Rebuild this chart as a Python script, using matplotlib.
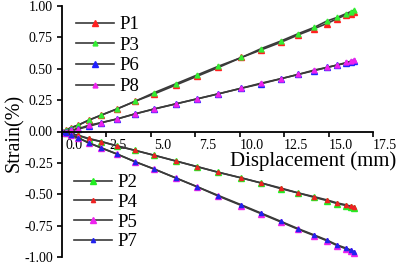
import matplotlib
matplotlib.use("Agg")
import matplotlib.pyplot as plt
from matplotlib import transforms
from matplotlib.ticker import MultipleLocator, FormatStrFormatter

plt.rcParams['font.family'] = ['Liberation Serif', 'DejaVu Serif']
plt.rcParams['axes.unicode_minus'] = False

# displacement (mm)
x = [0.0, 0.2, 0.5, 0.9, 1.5, 2.2, 3.1, 4.1, 5.2, 6.4, 7.6, 8.8, 10.1,
     11.2, 12.3, 13.3, 14.2, 14.9, 15.5, 16.0, 16.25, 16.45]

P1 = [0.0, 0.01, 0.03, 0.05, 0.09, 0.13, 0.18, 0.24, 0.30, 0.37, 0.44, 0.51,
      0.59, 0.65, 0.71, 0.77, 0.82, 0.86, 0.90, 0.93, 0.94, 0.955]
P3 = [0.0, 0.01, 0.03, 0.05, 0.09, 0.13, 0.18, 0.24, 0.31, 0.38, 0.45, 0.52,
      0.59, 0.66, 0.72, 0.78, 0.83, 0.88, 0.91, 0.94, 0.955, 0.968]
P6 = [0.0, 0.0, 0.01, 0.02, 0.04, 0.07, 0.10, 0.14, 0.18, 0.22, 0.26, 0.30,
      0.345, 0.38, 0.42, 0.455, 0.485, 0.51, 0.53, 0.545, 0.555, 0.563]
P8 = [0.0, 0.0, 0.01, 0.02, 0.05, 0.07, 0.10, 0.14, 0.18, 0.22, 0.26, 0.30,
      0.345, 0.385, 0.42, 0.455, 0.49, 0.51, 0.53, 0.55, 0.56, 0.57]
P2 = [0.0, -0.01, -0.02, -0.03, -0.06, -0.08, -0.115, -0.15, -0.19, -0.235,
      -0.28, -0.325, -0.37, -0.41, -0.455, -0.49, -0.525, -0.55, -0.575,
      -0.59, -0.60, -0.61]
P4 = [0.0, -0.01, -0.02, -0.03, -0.055, -0.08, -0.115, -0.15, -0.19, -0.235,
      -0.28, -0.325, -0.37, -0.41, -0.45, -0.49, -0.52, -0.545, -0.57,
      -0.585, -0.595, -0.60]
P5 = [0.0, -0.01, -0.03, -0.05, -0.09, -0.13, -0.18, -0.24, -0.30, -0.37,
      -0.44, -0.515, -0.59, -0.655, -0.72, -0.78, -0.83, -0.87, -0.91,
      -0.935, -0.95, -0.965]
P7 = [0.0, -0.01, -0.03, -0.05, -0.09, -0.13, -0.18, -0.24, -0.30, -0.37,
      -0.44, -0.51, -0.585, -0.65, -0.715, -0.775, -0.825, -0.865, -0.905,
      -0.93, -0.945, -0.96]

LINE = '#3a3a3a'

fig = plt.figure(figsize=(4.0, 2.64), dpi=100)
ax = fig.add_axes([62/400, 7/264, (373-62)/400, 251/264])

def draw(y, color, ms, label):
    return ax.plot(x, y, color=LINE, lw=1.2, marker='^', ms=ms,
                   mfc=color, mec=color, label=label)[0]

h1 = draw(P1, '#ff2020', 4.5, 'P1')
h3 = draw(P3, '#33ee33', 3.5, 'P3')
h6 = draw(P6, '#2020ff', 4.5, 'P6')
h8 = draw(P8, '#ee22ee', 3.5, 'P8')
h2 = draw(P2, '#22ee22', 4.5, 'P2')
h4 = draw(P4, '#ee2222', 3.0, 'P4')
h5 = draw(P5, '#ee22ee', 4.5, 'P5')
h7 = draw(P7, '#2222ee', 3.0, 'P7')

ax.set_xlim(0, 17.5)
ax.set_ylim(-1.0, 1.0)
ax.spines['top'].set_visible(False)
ax.spines['right'].set_visible(False)
ax.spines['bottom'].set_position(('data', 0))
for s in ax.spines.values():
    s.set_linewidth(1.3)

ax.xaxis.set_major_locator(MultipleLocator(2.5))
ax.xaxis.set_major_formatter(FormatStrFormatter('%.1f'))
ax.yaxis.set_major_locator(MultipleLocator(0.25))
ax.yaxis.set_major_formatter(FormatStrFormatter('%.2f'))
ax.tick_params(axis='both', direction='out', length=3.5, width=1.2,
               labelsize=10, pad=2)
ax.tick_params(axis='y', pad=3)

shift = transforms.ScaledTranslation(12/100, 0, fig.dpi_scale_trans)
for lab in ax.get_xticklabels():
    lab.set_transform(lab.get_transform() + shift)

leg1 = ax.legend(handles=[h1, h3, h6, h8], loc='upper left',
                 bbox_to_anchor=(76/400, 1 - 16/264),
                 bbox_transform=fig.transFigure, frameon=False,
                 fontsize=13.5, handlelength=2.0, handletextpad=0.3,
                 labelspacing=0.19, borderpad=0, borderaxespad=0)
ax.add_artist(leg1)
ax.legend(handles=[h2, h4, h5, h7], loc='upper left',
          bbox_to_anchor=(74/400, 1 - 174/264),
          bbox_transform=fig.transFigure, frameon=False,
          fontsize=13.5, handlelength=2.0, handletextpad=0.3,
          labelspacing=0.14, borderpad=0, borderaxespad=0)

fig.text(14/400, 1 - 133/264, 'Strain(%)', rotation=90, ha='center',
         va='center', fontsize=14.5)
fig.text(396/400, 1 - 161/264, 'Displacement (mm)', ha='right',
         va='center', fontsize=15)

fig.savefig('out.png', dpi=100)
